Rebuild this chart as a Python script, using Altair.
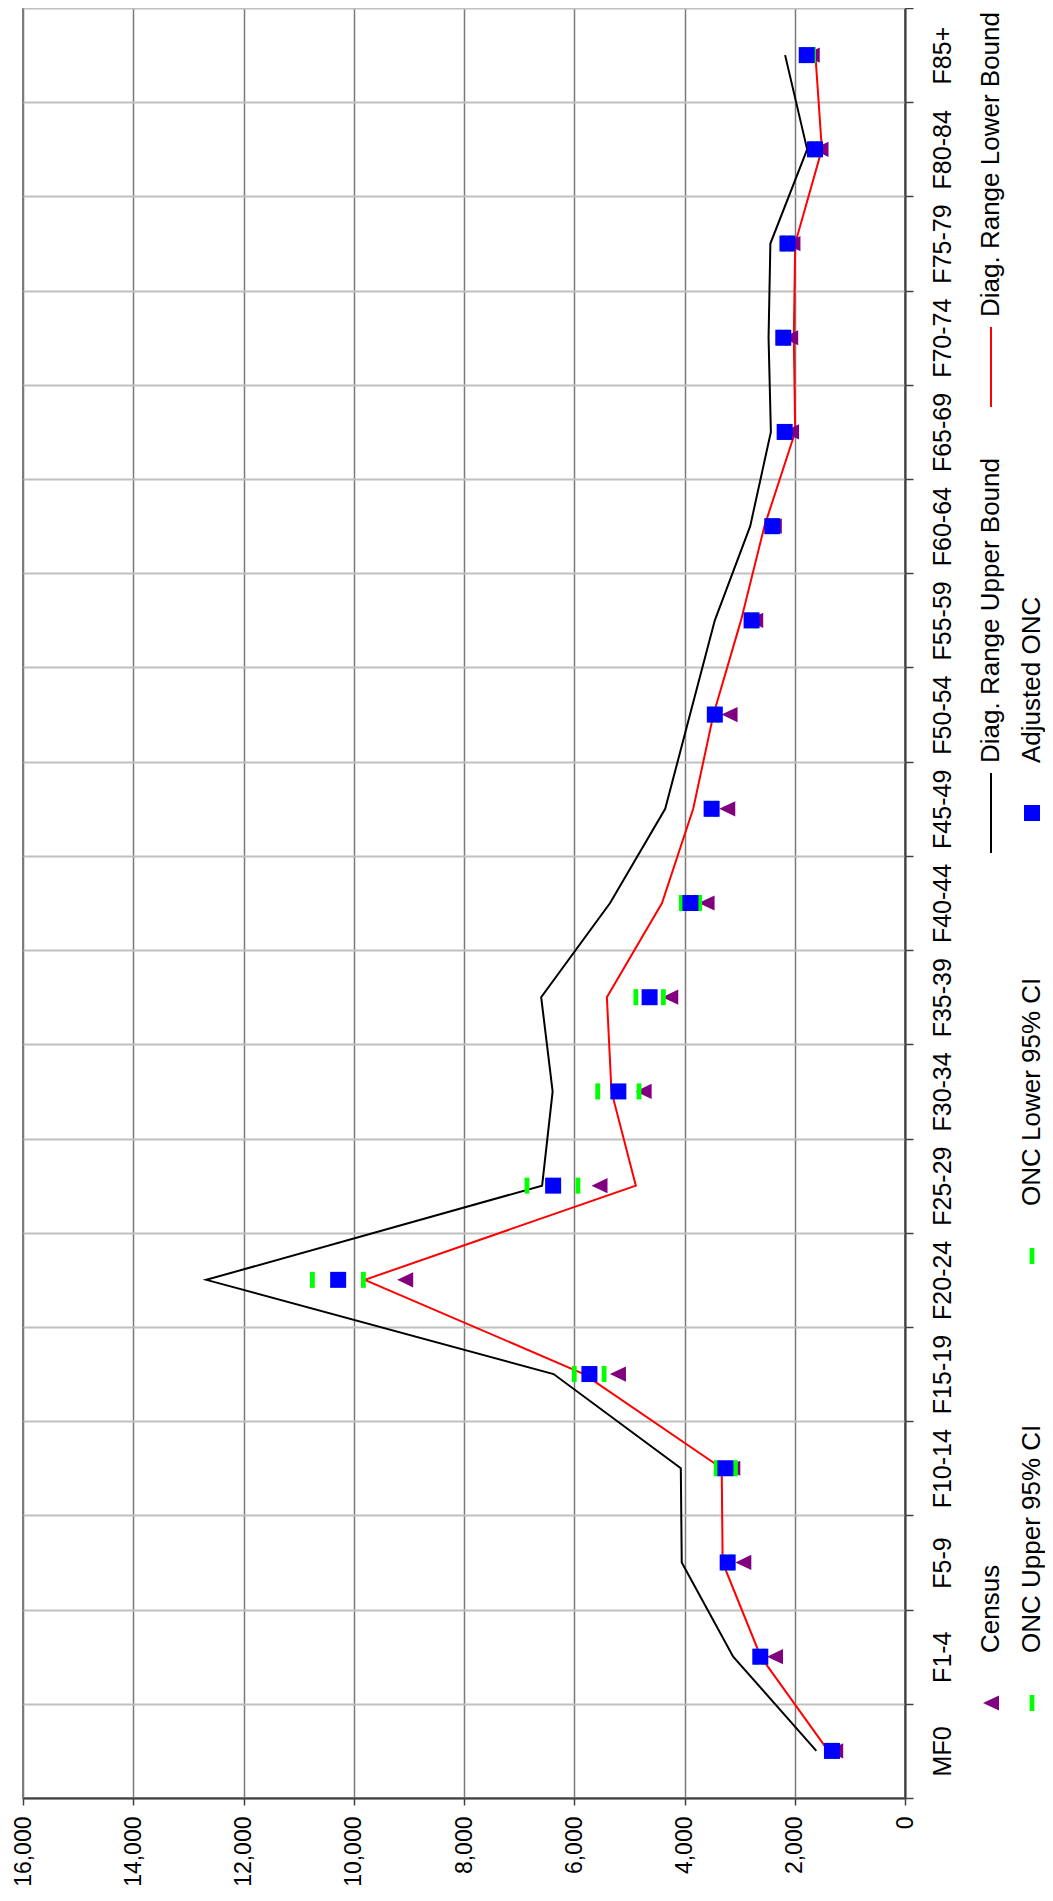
import json
import altair as alt
import pandas as pd

# ---- data ----
categories = ["MF0", "F1-4", "F5-9", "F10-14", "F15-19", "F20-24", "F25-29", "F30-34",
              "F35-39", "F40-44", "F45-49", "F50-54", "F55-59", "F60-64", "F65-69",
              "F70-74", "F75-79", "F80-84", "F85+"]
census = [1267, 2358, 2933, 3133, 5208, 9067, 5542, 4742, 4258, 3600, 3225, 3183,
          2717, 2380, 2067, 2083, 2042, 1533, 1692]
onc_upper = [1390, 2700, 3290, 3425, 6000, 10750, 6858, 5575, 4883, 4058, 3580, 3520,
             2850, 2470, 2240, 2260, 2200, 1690, 1840]
onc_lower = [1270, 2560, 3150, 3075, 5458, 9825, 5933, 4825, 4383, 3725, 3440, 3390,
             2720, 2350, 2130, 2150, 2070, 1580, 1660]
adjusted_onc = [1325, 2625, 3217, 3258, 5725, 10283, 6383, 5200, 4633, 3892, 3508, 3450,
                2783, 2408, 2183, 2208, 2133, 1633, 1783]
diag_upper = [1608, 3117, 4050, 4067, 6375, 12675, 6583, 6392, 6600, 5350, 4350, 3900,
              3450, 2808, 2433, 2475, 2442, 1775, 2175]
diag_lower = [1392, 2617, 3308, 3325, 5825, 9800, 4883, 5325, 5408, 4408, 3842, 3475,
              2975, 2550, 1992, 2017, 1992, 1508, 1625]
value_ticks = [0, 2000, 4000, 6000, 8000, 10000, 12000, 14000, 16000]

legend_labels = ["Census", "ONC Upper 95% CI", "ONC Lower 95% CI",
                 "Diag. Range Upper Bound", "Adjusted ONC", "Diag. Range Lower Bound"]
legend_kinds = ["tri", "tick", "tick", "line_black", "square", "line_red"]

# ---- layout / style ----
FONT = "Liberation Sans"
W, H = 882, 1790
N = len(categories)
BAND = H / N
LEG_COL_X = [968, 1009]
LEG_ROW_Y = [1695, 1248, 805, 359]
legend_slots = [(0, 0), (1, 0), (1, 1), (0, 2), (1, 2), (0, 3)]
TICK_PATH = "M-0.3,-1L0.3,-1L0.3,1L-0.3,1Z"
TRI_PATH = "M-1,0L1,-0.95L1,0.95Z"

df = pd.DataFrame({
    "idx": list(range(N)), "cat": categories, "census": census,
    "onc_upper": onc_upper, "onc_lower": onc_lower, "adjusted_onc": adjusted_onc,
    "diag_upper": diag_upper, "diag_lower": diag_lower,
})

leg = pd.DataFrame({
    "label": legend_labels, "kind": legend_kinds,
    "px": [LEG_COL_X[c] for c, r in legend_slots],
    "py": [LEG_ROW_Y[r] for c, r in legend_slots],
})
leg["ty"] = leg["py"] - 50
leg["y1"] = leg["py"] - 40
leg["y2"] = leg["py"] + 40

band_edges = [i - 0.5 for i in range(N + 1)]
label_expr = json.dumps(categories) + "[round(datum.value + 0.5)] || ''"


def xenc(field):
    return alt.X(
        f"{field}:Q", title="",
        scale=alt.Scale(domain=[0, 16000], reverse=True, nice=False, zero=False),
        axis=alt.Axis(orient="bottom", values=value_ticks,
                      labelExpr="format(datum.value, ',')", grid=True,
                      gridColor="#7a7a7a", gridWidth=1.5, domainColor="#404040",
                      domainWidth=2, tickColor="#404040", tickSize=7, tickWidth=1.5,
                      labelAngle=270, labelAlign="right", labelBaseline="middle",
                      labelPadding=11, labelFontSize=23, labelFont=FONT,
                      labelColor="black", labelOverlap=False, labelFlush=False),
    )


yenc = alt.Y(
    "idx:Q", title="",
    scale=alt.Scale(domain=[-0.5, N - 0.5], nice=False, zero=False),
    axis=alt.Axis(orient="right", values=band_edges, labelExpr=label_expr,
                  labelOffset=-BAND / 2, grid=True, gridColor="#c0c0c0", gridWidth=2,
                  domainColor="#404040", domainWidth=2, tickColor="#404040",
                  tickSize=8, tickWidth=1.5, labelAngle=270, labelAlign="center",
                  labelBaseline="top", labelPadding=17, labelFontSize=25,
                  labelFont=FONT, labelColor="black", labelOverlap=False),
)

base = alt.Chart(df)
line_up = base.mark_line(color="black", strokeWidth=2).encode(
    x=xenc("diag_upper"), y=yenc, order=alt.Order("idx:Q"))
line_lo = base.mark_line(color="#ff0000", strokeWidth=2).encode(
    x=xenc("diag_lower"), y=yenc, order=alt.Order("idx:Q"))
tri = base.mark_point(shape=TRI_PATH, filled=True, color="#800080",
                      size=256, opacity=1).encode(x=xenc("census"), y=yenc)
ci_up = base.mark_point(shape=TICK_PATH, filled=True, color="#00ff00",
                        size=256, opacity=1).encode(x=xenc("onc_upper"), y=yenc)
ci_lo = base.mark_point(shape=TICK_PATH, filled=True, color="#00ff00",
                        size=256, opacity=1).encode(x=xenc("onc_lower"), y=yenc)
sq = base.mark_point(shape="square", filled=True, color="#0000ff",
                     size=256, opacity=1).encode(x=xenc("adjusted_onc"), y=yenc)

lbase = alt.Chart(leg)
px = alt.X("px:Q", scale=None, axis=None)
py = alt.Y("py:Q", scale=None, axis=None)
leg_text = lbase.mark_text(angle=270, align="left", baseline="middle", fontSize=26,
                           font=FONT, color="black").encode(
    x=px, y=alt.Y("ty:Q", scale=None, axis=None), text="label:N")
leg_tri = lbase.transform_filter(alt.datum.kind == "tri").mark_point(
    shape=TRI_PATH, filled=True, color="#800080", size=256, opacity=1).encode(x=px, y=py)
leg_tick = lbase.transform_filter(alt.datum.kind == "tick").mark_point(
    shape=TICK_PATH, filled=True, color="#00ff00", size=256, opacity=1).encode(x=px, y=py)
leg_sq = lbase.transform_filter(alt.datum.kind == "square").mark_point(
    shape="square", filled=True, color="#0000ff", size=256, opacity=1).encode(x=px, y=py)
leg_lb = lbase.transform_filter(alt.datum.kind == "line_black").mark_rule(
    color="black", strokeWidth=2).encode(
    x=px, y=alt.Y("y1:Q", scale=None, axis=None), y2="y2:Q")
leg_lr = lbase.transform_filter(alt.datum.kind == "line_red").mark_rule(
    color="#ff0000", strokeWidth=2).encode(
    x=px, y=alt.Y("y1:Q", scale=None, axis=None), y2="y2:Q")

chart = alt.layer(
    line_up, line_lo, tri, ci_up, ci_lo, sq,
    leg_tri, leg_tick, leg_sq, leg_lb, leg_lr, leg_text,
).properties(
    width=W, height=H,
    autosize=alt.AutoSizeParams(type="none"),
    padding={"left": 15, "top": 0, "right": 140, "bottom": 89},
    background="white",
).configure_view(stroke="#808080", strokeWidth=2)

chart.save("out.html", embed_options={"renderer": "svg", "actions": False})
